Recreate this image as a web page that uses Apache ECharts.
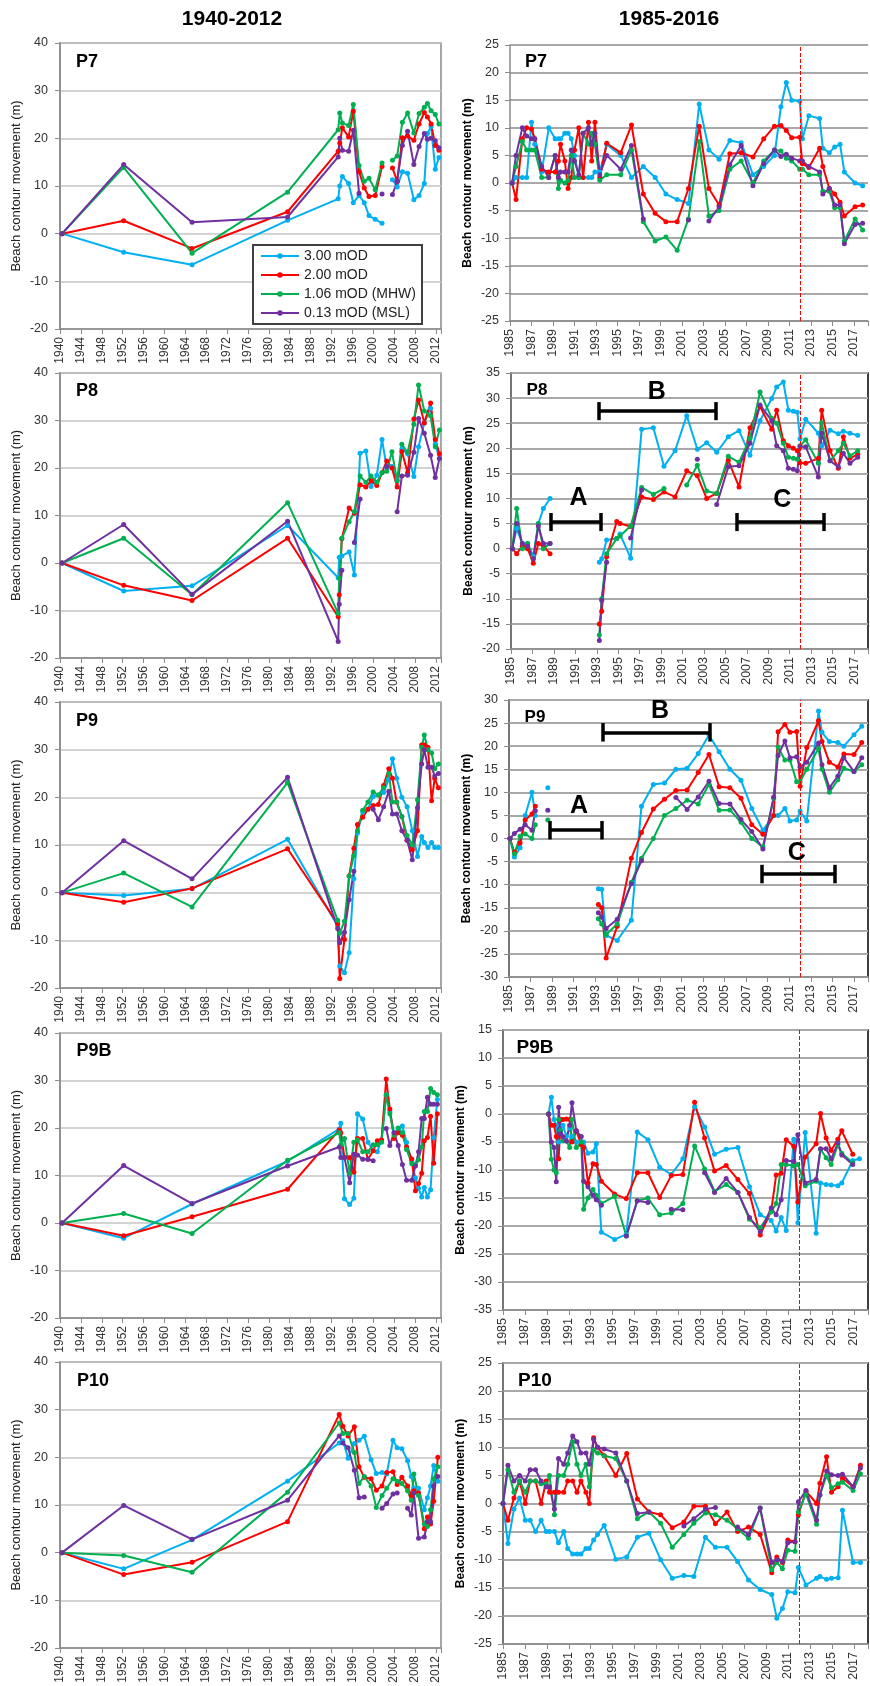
<!DOCTYPE html>
<html><head><meta charset="utf-8">
<script src="https://cdn.jsdelivr.net/npm/echarts@6/dist/echarts.min.js"></script>
<style>html,body{margin:0;padding:0;background:#fff}#c{width:870px;height:1686px}</style>
</head><body><div id="c"></div>
<script>
// ---------- legend / series names ----------
const seriesNames = ['3.00 mOD', '2.00 mOD', '1.06 mOD (MHW)', '0.13 mOD (MSL)'];
const seriesColors = ['#00B0F0', '#FF0000', '#00B050', '#7030A0'];
const leftTicks = {min: 1940, max: 2013, step: 4};
const rightTicks = {base: 1985, span: 33.3, step: 2};

// ---------- LEFT COLUMN (1940-2012) ----------
const L7_dates  = [1940.4,1952.2,1965.3,1983.6,1993.3,1993.6,1994.1,1995.3,1996.2,1997.3,1998.3,1999.2,2000.4,2001.7,2002.7,2003.7,2004.6,2005.6,2006.6,2007.8,2008.8,2009.8,2010.4,2011.1,2011.9,2012.6];
const L7_blue   = [0,-3.9,-6.5,2.8,7.3,10,12,10.5,6.5,8,6.5,3.8,3,2.2,null,11.3,9.8,13,12.7,7.1,8,10.5,21,22.5,13.5,16];
const L7_red    = [0,2.7,-3.1,4.6,17.3,19,22.2,20.3,25.7,13,9.6,7.8,8,14.1,null,13.8,11,20.1,20.5,19.6,23,25.4,24.5,23,18.5,17.5];
const L7_green  = [0,13.9,-4.1,8.7,21.8,25.3,23.2,22.7,27.1,14.3,11,11.6,9.2,14.8,null,15.4,16.3,23.4,25.3,21.1,25.2,26.5,27.3,25.8,25,23];
const L7_purple = [0,14.5,2.4,3.5,16.1,20,17.5,17.3,21.7,8.5,null,null,null,8.3,null,8.2,11,18.5,21.5,14.5,18.3,21,19.8,20,19.5,18];

const L8_dates  = [1940.4,1952.2,1965.3,1983.6,1993.3,1993.5,1994.0,1995.4,1996.4,1997.5,1998.6,1999.6,2000.7,2001.7,2002.6,2003.6,2004.6,2005.5,2006.6,2007.8,2008.7,2009.8,2011.0,2011.9,2012.7];
const L8_blue   = [0,-5.9,-4.8,7.9,-3.1,1.2,1.5,2.3,-2.5,23.1,23.6,16.1,18.5,26,20,20.3,17.5,24,23,18.2,24.5,29.5,32.6,25,22];
const L8_red    = [0,-4.7,-7.9,5.2,-11.3,-6.7,5.1,11.6,10.5,16.5,16,17.3,16.3,19,21.5,20,16,23.5,19,30.3,34.3,29.5,33.7,26,23];
const L8_green  = [0,5.2,-6.7,12.7,-10.6,-3.2,5.2,8.7,10.8,18.3,17,18.3,17,19,19.3,23.4,17.3,25,23.3,29.2,37.5,32,31,24.5,28];
const L8_purple = [0,8.1,-6.6,8.8,-16.5,-8.7,-1.5,null,4.3,13.5,null,null,null,null,20.3,null,10.8,18.3,18.5,23.3,30.4,27.3,22.7,18,22];

const L9_dates  = [1940.4,1952.2,1965.3,1983.6,1993.2,1993.6,1994.5,1995.4,1996.3,1997.0,1998.0,1999.0,2000.0,2001.0,2002.0,2003.0,2003.7,2004.5,2005.5,2006.5,2007.5,2008.5,2009.3,2009.8,2010.5,2011.2,2011.8,2012.5];
const L9_blue   = [0,-0.6,0.8,11.2,-7,-15.4,-16.8,-12.6,2.9,12.5,17,17.5,20.2,20.5,21,23.8,28.1,24,20,18,13,7.6,11.8,10.5,9.5,10.5,9.5,9.5];
const L9_red    = [0,-2,0.9,9.2,-6.5,-18,-9.8,3.5,9.3,14.3,15.8,17.5,18.3,18.5,22.5,26,24,19,16,11,9,13,31,31,30.5,19.3,24,22];
const L9_green  = [0,4.1,-3,23.1,-5.8,-8.5,-6,3.5,7.8,13,17.3,19,21.1,20.5,22,25,19,19,16,12,10,19.5,30.5,33.1,30,29.3,26,27];
const L9_purple = [0,10.9,2.9,24.2,-7.5,-10.5,-8.3,-1.5,4.5,null,null,null,17.5,15.3,18,21.3,16.5,16.5,13,11,6.9,17.8,27,30,26.3,26.3,24.5,25];

const L9B_dates  = [1940.4,1952.2,1965.3,1983.6,1993.5,1993.8,1994.5,1995.5,1996.3,1997.0,1998.0,1999.0,2000.0,2000.8,2001.6,2002.5,2003.2,2004.0,2004.8,2005.6,2006.4,2007.4,2008.1,2008.7,2009.3,2009.8,2010.4,2011.0,2011.6,2012.3];
const L9B_blue   = [0,-3.2,4,13,19.8,21,5.1,3.9,5.2,23,21.9,17,15.3,15,17.5,27,23.5,19,19.5,20.4,17,13,9.5,7.3,5.5,7.5,5.5,7,18,26];
const L9B_red    = [0,-2.7,1.3,7.1,19.6,19,13.8,13.8,10.7,17.8,17.8,13.4,15.2,17.3,17.5,30.3,24,17.8,19,18.5,16,13.5,6.8,8.3,10.5,17.3,18,22.5,12.6,23];
const L9B_green  = [0,2,-2.2,13.2,19,16.5,17.8,10.5,17,17.5,15,15,16.5,16.5,17,27,23,18.5,20,19,15.5,12.5,12.3,13.3,16,23.5,23.5,28.3,27.5,27];
const L9B_purple = [0,12.1,4.1,12,16,13.8,13.8,8.5,14.5,14.3,13.4,13.4,13.1,null,null,19.9,16.3,19,16.3,12.3,9,9,12,15,22,22,26.5,25,25,25];

const L10_dates  = [1940.4,1952.2,1965.3,1983.6,1993.5,1994.2,1995.2,1996.4,1997.3,1998.3,1999.6,2000.6,2001.7,2002.6,2003.8,2004.6,2005.5,2006.6,2007.3,2007.8,2008.7,2009.8,2010.4,2011.0,2011.6,2012.4];
const L10_blue   = [0,-3.4,2.7,15,23,23.5,19.8,22.9,23.6,24.4,19.5,16.6,16.8,16.5,23.6,22,21.8,19.3,16,13.5,13.5,9,11.5,14,18.3,15];
const L10_red    = [0,-4.6,-2,6.5,29,26.5,24.5,26.4,18,15.8,15.5,13.1,14,16.8,17,14.3,15.8,14,12,13,12.5,5,7.5,6,10.8,20];
const L10_green  = [0,-0.6,-4.1,12.7,27.2,25,25,21,14.5,16,14,9.5,12,13.5,15.5,15,14.5,13,11,16.5,12,6,5.5,9,15.5,18];
const L10_purple = [0,9.9,2.8,11,24.5,23,22,17.3,11.5,11.7,null,null,9.3,10.3,12.3,12.5,null,9.3,7.9,12.5,3,3.3,6.5,6.5,14,16];

// ---------- RIGHT COLUMN (1985-2016) ----------
const R7_dates  = [1985.2,1985.56,1986.15,1986.55,1987.0,1987.3,1987.95,1988.6,1989.2,1989.5,1989.7,1990.1,1990.4,1990.7,1991.0,1991.4,1991.8,1992.3,1992.6,1992.9,1993.35,1994.0,1995.3,1996.3,1997.4,1998.5,1999.5,2000.55,2001.6,2002.6,2003.5,2004.45,2005.45,2006.5,2007.6,2008.6,2009.6,2010.2,2010.7,2011.2,2011.95,2012.2,2012.8,2013.8,2014.1,2014.7,2015.2,2015.7,2016.1,2017.1,2017.8];
const R7_blue   = [0,1,1,1,11,7,2,10,8,8,8,9,9,8,5,1,1,1,1,2,2,7,5,1,3,1,-2,-3,-3.7,14.3,6,4.3,7.7,7.3,1.5,3,5,13.8,18.2,15,14.8,8,12.2,11.7,6.3,5.5,6.5,7,2,0,-0.5];
const R7_red    = [0,-3,8,10,9.8,8,2.5,2,2,4,7,4,-1,1,6,10,1,11,4,11,1,7.2,5.5,10.5,-2,-5.5,-7,-7,-1,10.3,-1,-4,5.3,5.5,4.7,8,10.3,10.4,9.5,8.2,8.3,3.5,2.8,6.3,3,-1,-2,-3.5,-6,-4.3,-4];
const R7_green  = [0,3,7.5,6,6,6,1,1,5,-1,0.5,0,0.5,5,1,1,9,7,9,7,0.5,1.5,1.5,6,-7,-10.5,-9.8,-12.2,-6.5,7.5,-6,-5,2.5,4,0,4,6,5.8,4.5,4,2.5,2.5,1.5,1.5,-1.5,-1.5,-4.5,-4.5,-10.5,-6.5,-8.5];
const R7_purple = [0,5,10,8.5,8,8,3,1,5,1,2,2,2,6,4,1.5,9,10,7,9,1.5,5,2.5,6.8,-6.5,null,null,null,-6.7,null,-6.9,-4.3,3.3,6.8,-0.5,3.5,6,4.8,5.2,4.5,4,4,3,2,-2,-1,-4,-4,-11,-7.5,-7.3];

const R8_dates  = [1985.12,1985.53,1986.06,1986.55,1987.08,1987.55,1988.02,1988.64,1991.0,1993.24,1993.46,1993.92,1994.86,1995.17,1996.16,1997.19,1998.28,1999.27,2000.3,2001.39,2002.38,2003.25,2004.19,2005.27,2006.27,2007.29,2008.23,2009.32,2009.78,2010.4,2010.87,2011.34,2011.71,2011.96,2012.49,2013.67,2013.98,2014.76,2015.53,2016.0,2016.62,2017.34];
const R8_blue   = [0,4,1,1,-1.5,5,8,10,null,-2.7,-2,1.7,2,2.9,-1.9,23.8,24.1,16.4,19.5,26.5,19.8,21.1,19.2,22.3,23.5,18.6,25.5,29.9,32.2,33.2,27.6,27.4,27.2,21.9,25.8,23,20.5,23.6,22.9,23.4,23,22.6];
const R8_red    = [0,-1,0.5,0,-2.9,1,0.5,-1,null,-15,-12.5,-1.6,5.4,5,4.4,10.3,9.8,11.3,10.3,15.5,14.5,10,11,17.6,12.3,24.1,28.3,23.8,27.6,21.5,20.5,20,19.5,17.1,17,18,27.6,19.5,16,22.3,18,18.8];
const R8_green  = [0,8,0,1,-2,5,0,1,null,-17.2,-10,-1,2,2.5,4.5,12.2,10.8,12,null,12.7,16.6,11.5,11,18.4,17.2,22,31.2,26,25,21,18.2,18,17.8,20.5,21.7,17,25.1,17.5,19.5,21,18.5,19.5];
const R8_purple = [0,5,1,0.5,-2,4.5,1,1,null,-18.3,-10.3,-2.7,null,null,2.1,11.7,null,null,null,null,17.8,null,8.8,16.3,16.5,21,28.6,25.5,20.5,19.5,16,15.8,15.5,20.3,20.3,14.3,23,17.5,16.3,19,17,18.2];

const R9_dates  = [1985.09,1985.5,1986.03,1986.5,1987.13,1987.44,1988.0,1988.6,1991.0,1993.29,1993.6,1994.01,1995.04,1996.35,1997.29,1998.39,1999.42,2000.48,2001.52,2002.55,2003.55,2004.49,2005.49,2006.52,2007.52,2008.55,2009.55,2009.96,2010.59,2011.06,2011.68,2012.0,2012.62,2013.71,2014.03,2014.72,2015.5,2016.06,2017.0,2017.72];
const R9_blue   = [0,-4,-2,5,10,5,null,11,null,-10.9,-11,-21,-22.1,-17.7,7,11.7,12,15,15.2,18.4,22.4,18.8,15,12.6,6.5,1.8,5,5,6.5,3.8,4,5.9,3.8,27.6,23,21,20.8,20,22.5,24.3];
const R9_red    = [0,-3,-1,4,5.3,7,null,null,null,-14.3,-15,-25.9,-19,-4.3,1.3,6.4,8.5,10.4,10.5,14.3,18.2,11.2,11,8.7,3,0.9,5,23.1,24.7,23,23.2,11.3,19.7,25.5,21,16.5,15.5,18.3,18.2,20.8];
const R9_green  = [0,-3.3,0.5,1,0,3,null,4,null,-17.4,-18.5,-20.8,-18.5,-9.5,-4.3,0,5,6.5,8.3,7.5,11.7,6.1,6.2,3.5,0,-1.8,8.7,19.8,17,17,12.3,12.3,15,19.5,15,10,12.7,15.2,14.5,16];
const R9_purple = [0,1.1,2,3,1.8,6,null,6.1,null,-16.1,-17,-19.5,-17.5,-9.8,-4.8,null,null,8.9,6.3,9,12.4,7.6,7.5,4.1,1.5,-2.3,9,18,21.1,17.5,17.7,15.5,16.5,20.7,16,11,13.5,17.5,14.5,17.5];

const R9B_dates  = [1989.16,1989.41,1989.65,1989.86,1990.08,1990.26,1990.47,1990.78,1991.08,1991.29,1991.69,1992.14,1992.36,1992.75,1993.21,1993.51,1993.97,1995.18,1996.25,1997.25,1998.22,1999.29,2000.35,2001.41,2002.48,2003.39,2004.3,2005.36,2006.43,2007.49,2008.47,2009.47,2009.92,2010.38,2010.84,2011.53,2011.9,2012.57,2013.57,2013.97,2014.48,2014.94,2015.55,2015.91,2016.91,2017.52];
const R9B_blue   = [0,3,-1,-2,-5,-3,-2,-4,-2.5,-4,-5,-5,-5,-7,-6.8,-5.3,-21.1,-22.4,-21.5,-3.2,-4.6,-9.5,-10.8,-8,1.3,-2.3,-7.2,-6.3,-6,-13,-18,-19,-20.9,-18.5,-20.8,-4.5,-19.4,-3.3,-21.3,-12.3,-12.6,-12.7,-12.8,-12.3,-8.3,-8];
const R9B_red    = [0,-2,-2,-4,-8,-1,-1,-0.9,-1,-5,-3,-5.5,-6,-12.3,-8.9,-9,-12,-14.3,-15.1,-10.5,-10.5,-14.9,-11,-10.8,2.1,-4.3,-10.2,-9.2,-11.7,-14.2,-21.6,-17.3,-10.9,-10.6,-4.6,-5.8,-15.7,-7.7,-5.3,0.1,-4.3,-6.5,-4.5,-3,-7.2,null];
const R9B_green  = [0,-8.1,-10,-10.5,-1,-3,-4.8,-4.8,-6,-1,-6,-5,-17,-15,-13.5,-14.5,-16,-14.7,-21.8,-15.5,-15,-18,-17.7,-16,-5.7,-9.8,-13.8,-12.6,-14,-18.8,-20.3,-17.5,-16,-9,-9,-9.3,-9,-12.8,-12,-6.3,-7.8,-9,-5.5,-7,-8.7,null];
const R9B_purple = [0,-5,-6,-12.1,1.2,-3.5,-4,-4.8,-2,2,-3,-4,-12,-13,-14.5,-15.3,-16.3,null,-21.8,-15.5,-15.8,null,-17,-17.1,null,-10.5,-14,-11.5,-14,-18.5,-21,-16.8,-18,-15.3,-8.3,-8.5,-3.7,-12.3,-11.7,-6.2,-6.2,-8,-5.2,-7.3,-9,null];

const R10_dates  = [1985.0,1985.45,1986.0,1986.51,1987.03,1987.48,1987.97,1988.48,1988.94,1989.24,1989.69,1990.06,1990.54,1990.9,1991.36,1991.75,1992.11,1992.57,1992.87,1993.27,1993.63,1994.23,1995.29,1996.29,1997.26,1998.32,1999.38,2000.44,2001.5,2002.41,2003.47,2004.38,2005.44,2006.4,2007.4,2008.46,2009.52,2009.98,2010.49,2010.98,2011.64,2011.95,2012.64,2013.61,2013.91,2014.52,2014.97,2015.58,2015.97,2016.94,2017.61];
const R10_blue   = [0,-7.1,-1,1,-3,-3,-5,-3,-5,-5,-5,-7,-5,-8,-9,-9,-9,-8,-8,-6.5,-5.5,-3.9,-9.9,-9.5,-6,-5.3,-10,-13.3,-12.8,-13,-6,-7.8,-7.8,-10.3,-13.6,-15.3,-16.2,-20.4,-18.7,-15.7,-15.9,-11.4,-14.5,-13.3,-13,-13.5,-13.3,-13.2,-1.2,-10.5,-10.5];
const R10_red    = [0,-3,1,4,0,4,4,0,4,2,2,2,2,4,4,2,4,2,0,11.7,10,8.5,5,8.9,0.8,-1.5,-2,-4.3,-3.3,-0.5,-0.5,-3.6,-1.5,-5,-4.2,-5.5,-12.3,-9.5,-10.5,-6.5,-6.8,-2,2.2,0,3.6,8.3,2,3,4.5,3,6.8];
const R10_green  = [0,6,2,4,2,4,4,3.5,3.5,5,-2,5,5,7,11,7,5,7,3,9.5,9,8.5,8,4,-2.7,-1.5,-3.5,-7.8,-5.5,-3.5,-1.7,-2,-3,-4.5,-6.2,-0.8,-11.8,-10.5,-11.6,-8.3,-8.5,-1.5,1.7,-3.7,1.5,5,2.8,3.5,3.8,2.3,5.3];
const R10_purple = [0,6.8,4,5,4,6,6,4,3,3,-1,8,7,9,12,11,9,9,7,11.4,10,9.7,9,4,-1.8,-1.5,null,null,-4,-2.7,-1,-0.7,null,-4.2,-5.5,-0.8,-10.5,-10,-10.3,-7,-6.8,0.3,2.3,-3,1.5,5.8,5.1,5,5.2,3,6.3];

// y ranges
const leftY = [-20, 40, 10];
const rightY = {P7: [-25, 25], P8: [-20, 35], P9: [-30, 30], P9B: [-35, 15], P10: [-25, 25]};
const surveyChangeYear = 2012.0;

// annotations (data space: year, value)
const P8_letters = [['A', 1991.3, 10], ['B', 1998.6, 31.2], ['C', 2010.3, 9.6]];
const P8_bars = [[1988.7, 1993.4, 5.3], [1993.2, 2004.1, 27.4], [2006.1, 2014.2, 5.3]];
const P9_letters = [['A', 1991.5, 7], ['B', 1999.0, 27.5], ['C', 2011.7, -3.2]];
const P9_bars = [[1988.8, 1993.6, 1.8], [1993.7, 2003.6, 23], [2008.4, 2015.2, -7.7]];

// ---------- layout (pixels) ----------
const LEFT = [
  {label: 'P7', dates: L7_dates, vals: [L7_blue, L7_red, L7_green, L7_purple], top: 43, h: 286, lab: [87, 62]},
  {label: 'P8', dates: L8_dates, vals: [L8_blue, L8_red, L8_green, L8_purple], top: 373, h: 285, lab: [87, 391]},
  {label: 'P9', dates: L9_dates, vals: [L9_blue, L9_red, L9_green, L9_purple], top: 702, h: 286, lab: [87, 721]},
  {label: 'P9B', dates: L9B_dates, vals: [L9B_blue, L9B_red, L9B_green, L9B_purple], top: 1033, h: 285, lab: [94, 1051]},
  {label: 'P10', dates: L10_dates, vals: [L10_blue, L10_red, L10_green, L10_purple], top: 1362, h: 286, lab: [93, 1381]}
];
const RIGHT = [
  {label: 'P7', dates: R7_dates, vals: [R7_blue, R7_red, R7_green, R7_purple], left: 510, top: 45, h: 276, box: false, lab: [536, 62], fs: 18},
  {label: 'P8', dates: R8_dates, vals: [R8_blue, R8_red, R8_green, R8_purple], left: 511, top: 373, h: 276, box: true, lab: [537, 390], fs: 17, letters: P8_letters, bars: P8_bars, cap: 1.8},
  {label: 'P9', dates: R9_dates, vals: [R9_blue, R9_red, R9_green, R9_purple], left: 509, top: 700, h: 277, box: true, lab: [535, 717], fs: 17, letters: P9_letters, bars: P9_bars, cap: 2},
  {label: 'P9B', dates: R9B_dates, vals: [R9B_blue, R9B_red, R9B_green, R9B_purple], left: 503, top: 1030, h: 280, box: true, lab: [535, 1048], fs: 19},
  {label: 'P10', dates: R10_dates, vals: [R10_blue, R10_red, R10_green, R10_purple], left: 503, top: 1363, h: 281, box: true, lab: [535, 1381], fs: 19}
];
const rightEdge = 868;

const FONT = '"Liberation Sans", Arial, sans-serif';
const grids = [], xAxes = [], yAxes = [], series = [], graphics = [];

function pairs(dates, vals, off) {
  return dates.map((d, i) => [Math.round((d - off) * 1000) / 1000, vals[i] == null ? '-' : vals[i]]);
}
function lineSeries(k, g, data) {
  return {
    type: 'line', name: seriesNames[k], xAxisIndex: g, yAxisIndex: g, data: data,
    symbol: 'circle', symbolSize: 5, showSymbol: true, connectNulls: false,
    color: seriesColors[k], lineStyle: {width: 2, color: seriesColors[k]},
    itemStyle: {color: seriesColors[k]}, emphasis: {disabled: true}, animation: false, silent: true
  };
}
function panelLabel(text, xy, fs) {
  return {type: 'text', x: xy[0], y: xy[1], z: 100,
    style: {text: text, font: 'bold ' + fs + 'px ' + FONT, fill: '#000', textAlign: 'center', textVerticalAlign: 'middle', align: 'center', verticalAlign: 'middle'}};
}

LEFT.forEach((p) => {
  const g = grids.length;
  grids.push({left: 60, top: p.top, width: 381, height: p.h, show: true, borderColor: '#8a8a8a', borderWidth: 1.5});
  xAxes.push({
    gridIndex: g, type: 'value', min: leftTicks.min, max: leftTicks.max, interval: leftTicks.step,
    axisLine: {onZero: false, lineStyle: {color: '#8a8a8a', width: 1.5}},
    axisTick: {show: true, length: 5, lineStyle: {color: '#8a8a8a'}},
    axisLabel: {rotate: 90, fontSize: 12, color: '#333', margin: 8, fontFamily: FONT,
      formatter: v => (Math.abs(v % leftTicks.step) < 1e-6 ? String(v) : '')},
    splitLine: {show: false}
  });
  yAxes.push({
    gridIndex: g, type: 'value', min: leftY[0], max: leftY[1], interval: leftY[2],
    axisLine: {show: true, lineStyle: {color: '#8a8a8a', width: 1.5}},
    axisTick: {show: true, length: 5, lineStyle: {color: '#8a8a8a'}},
    axisLabel: {fontSize: 12.5, color: '#333', margin: 12, fontFamily: FONT},
    splitLine: {show: true, lineStyle: {color: '#c4c4c4', width: 1.5}},
    name: 'Beach contour movement (m)', nameLocation: 'middle', nameGap: 37,
    nameTextStyle: {fontSize: 13, color: '#222', fontFamily: FONT}
  });
  p.vals.forEach((v, k) => series.push(lineSeries(k, g, pairs(p.dates, v, 0))));
  graphics.push(panelLabel(p.label, p.lab, 18));
});

RIGHT.forEach((p) => {
  const g = grids.length;
  const yr = rightY[p.label];
  grids.push({left: p.left, top: p.top, width: rightEdge - p.left, height: p.h, show: p.box, borderColor: '#000', borderWidth: 1.5});
  xAxes.push({
    gridIndex: g, type: 'value', min: 0, max: rightTicks.span, interval: rightTicks.step,
    axisLine: {onZero: false, lineStyle: {color: '#8a8a8a', width: 1.5}},
    axisTick: {show: true, length: 5, lineStyle: {color: '#8a8a8a'}},
    axisLabel: {rotate: 90, fontSize: 12.5, color: '#333', margin: 8, fontFamily: FONT,
      formatter: v => { const r = Math.round(v); return (Math.abs(v - r) < 1e-6 && r % rightTicks.step === 0) ? String(rightTicks.base + r) : ''; }},
    splitLine: {show: false}
  });
  yAxes.push({
    gridIndex: g, type: 'value', min: yr[0], max: yr[1], interval: 5,
    axisLine: {show: true, lineStyle: {color: '#8a8a8a', width: 1.5}},
    axisTick: {show: true, length: 5, lineStyle: {color: '#8a8a8a'}},
    axisLabel: {fontSize: 12.5, color: '#333', margin: 11, fontFamily: FONT},
    splitLine: {show: true, lineStyle: {color: '#a8a8a8', width: 2}},
    name: 'Beach contour movement (m)', nameLocation: 'middle', nameGap: 36,
    nameTextStyle: {fontSize: 12, fontWeight: 'bold', color: '#000', fontFamily: FONT}
  });
  const base = rightTicks.base;
  p.vals.forEach((v, k) => series.push(lineSeries(k, g, pairs(p.dates, v, base))));
  // marker series: red dashed line + annotation bars + letters
  const mlData = [{xAxis: surveyChangeYear - base, lineStyle: {color: '#FF0000', type: 'dashed', width: 1}}];
  const mpData = [];
  if (p.bars) {
    const barStyle = {color: '#000', width: 3.5, type: 'solid'};
    p.bars.forEach(b => {
      mlData.push([{coord: [b[0] - base, b[2]], lineStyle: barStyle}, {coord: [b[1] - base, b[2]]}]);
      mlData.push([{coord: [b[0] - base, b[2] - p.cap], lineStyle: barStyle}, {coord: [b[0] - base, b[2] + p.cap]}]);
      mlData.push([{coord: [b[1] - base, b[2] - p.cap], lineStyle: barStyle}, {coord: [b[1] - base, b[2] + p.cap]}]);
    });
    p.letters.forEach(l => mpData.push({name: l[0], coord: [l[1] - base, l[2]]}));
  }
  series.push({
    type: 'line', xAxisIndex: g, yAxisIndex: g, data: [], silent: true, animation: false,
    markLine: {silent: true, symbol: ['none', 'none'], label: {show: false}, animation: false, data: mlData},
    markPoint: {silent: true, symbol: 'circle', symbolSize: 1, itemStyle: {color: 'rgba(0,0,0,0)'}, animation: false,
      label: {show: true, position: 'inside', formatter: '{b}', fontSize: 25, fontWeight: 'bold', color: '#000', fontFamily: FONT},
      data: mpData}
  });
  graphics.push(panelLabel(p.label, p.lab, p.fs));
});

graphics.push({type: 'text', x: 232, y: 19, style: {text: '1940-2012', font: 'bold 21px ' + FONT, fill: '#000', textAlign: 'center', textVerticalAlign: 'middle', align: 'center', verticalAlign: 'middle'}});
graphics.push({type: 'text', x: 669, y: 19, style: {text: '1985-2016', font: 'bold 21px ' + FONT, fill: '#000', textAlign: 'center', textVerticalAlign: 'middle', align: 'center', verticalAlign: 'middle'}});

const chart = echarts.init(document.getElementById('c'), null, {renderer: 'canvas', width: 870, height: 1686});
chart.setOption({
  backgroundColor: '#fff',
  animation: false,
  textStyle: {fontFamily: FONT},
  grid: grids, xAxis: xAxes, yAxis: yAxes, series: series, graphic: graphics,
  legend: {
    data: seriesNames, left: 253, top: 245, orient: 'vertical',
    backgroundColor: '#fff', borderColor: '#404040', borderWidth: 2, borderRadius: 0,
    padding: [4, 6, 4, 7], itemGap: 5, itemWidth: 38, itemHeight: 7,
    textStyle: {fontSize: 14, color: '#222', fontFamily: FONT}, selectedMode: false, z: 10
  }
});
</script>
</body></html>
